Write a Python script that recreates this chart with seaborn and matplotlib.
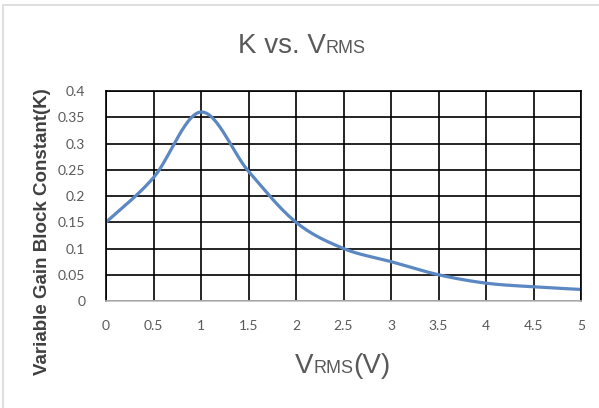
import numpy as np
import matplotlib
matplotlib.use("Agg")
import matplotlib.pyplot as plt
from matplotlib.offsetbox import TextArea, HPacker, AnchoredOffsetbox
from matplotlib.patches import Rectangle
from matplotlib.ticker import FuncFormatter
import seaborn as sns

# values
vrms = [0, 0.5, 1, 1.5, 2, 2.5, 3, 3.5, 4, 4.5, 5]
k_const = [0.15, 0.235, 0.36, 0.247, 0.15, 0.10, 0.075, 0.05, 0.034, 0.027, 0.022]

x_ticks = [0, 0.5, 1, 1.5, 2, 2.5, 3, 3.5, 4, 4.5, 5]
y_ticks = [0, 0.05, 0.1, 0.15, 0.2, 0.25, 0.3, 0.35, 0.4]

LINE = "#5B87C2"
GREY = "#595959"


def smooth_line(x, y, steps=30):
    # excel style "smoothed line": cubic bezier with catmull-rom control points
    p = np.column_stack([x, y]).astype(float)
    pad = np.vstack([p[:1], p, p[-1:]])
    out = []
    for i in range(len(p) - 1):
        p0, p1, p2, p3 = pad[i], pad[i + 1], pad[i + 2], pad[i + 3]
        c1 = p1 + (p2 - p0) / 6
        c2 = p2 - (p3 - p1) / 6
        t = np.linspace(0, 1, steps, endpoint=(i == len(p) - 2))[:, None]
        seg = ((1 - t) ** 3) * p1 + 3 * ((1 - t) ** 2) * t * c1 + 3 * (1 - t) * t ** 2 * c2 + t ** 3 * p2
        out.append(seg)
    out = np.vstack(out)
    return out[:, 0], out[:, 1]


sns.set_theme(style="white")
plt.rcParams["font.family"] = ["Liberation Sans", "DejaVu Sans"]

fig = plt.figure(figsize=(5.99, 4.08), dpi=100)
ax = fig.add_axes([106 / 599, 1 - 301 / 408, 475 / 599, 210 / 408])

sx, sy = smooth_line(vrms, k_const)
sns.lineplot(x=sx, y=sy, sort=False, estimator=None, color=LINE, linewidth=2.3, ax=ax)

ax.set_xlim(0, 5)
ax.set_ylim(0, 0.4)
ax.set_xticks(x_ticks)
ax.set_yticks(y_ticks)
fmt = FuncFormatter(lambda v, pos: f"{v:g}")
ax.xaxis.set_major_formatter(fmt)
ax.yaxis.set_major_formatter(fmt)
ax.grid(True, color="black", linewidth=1.2)
ax.set_axisbelow(True)
for s in ax.spines.values():
    s.set_color("black")
    s.set_linewidth(1.2)
ax.spines["bottom"].set_color("#BFBFBF")
ax.tick_params(axis="both", length=0, labelsize=10, labelcolor=GREY)
ax.tick_params(axis="x", pad=14)
ax.tick_params(axis="y", pad=15)
for lab in ax.get_xticklabels() + ax.get_yticklabels():
    lab.set_family(["Lato", "DejaVu Sans"])

ax.set_ylabel("Variable Gain Block Constant(K)", fontsize=13.5, fontweight="bold",
              color="#404040", va="center")
ax.yaxis.set_label_coords(-(106 - 43) / 475, (301 - 232) / 210)


def mixed_text(parts, loc_xy):
    boxes = [TextArea(t, textprops=dict(size=s, color=GREY, family="Liberation Sans"))
             for t, s in parts]
    pack = HPacker(children=boxes, align="baseline", pad=0, sep=0)
    ab = AnchoredOffsetbox(loc="center", child=pack, frameon=False,
                           bbox_to_anchor=loc_xy, bbox_transform=fig.transFigure,
                           borderpad=0, pad=0)
    fig.add_artist(ab)


mixed_text([("K vs. V", 20), ("RMS", 13)], (302 / 599, 1 - 46 / 408))
mixed_text([("V", 20), ("RMS", 13), ("(V)", 20)], (343 / 599, 1 - 366 / 408))

# light grey chart-area frame
fig.add_artist(Rectangle((2.5 / 599, -0.1), 1.2, 1.1 - 5.5 / 408, transform=fig.transFigure,
                         fill=False, edgecolor="#D9D9D9", linewidth=1.2))

fig.savefig("out.png", dpi=100)
